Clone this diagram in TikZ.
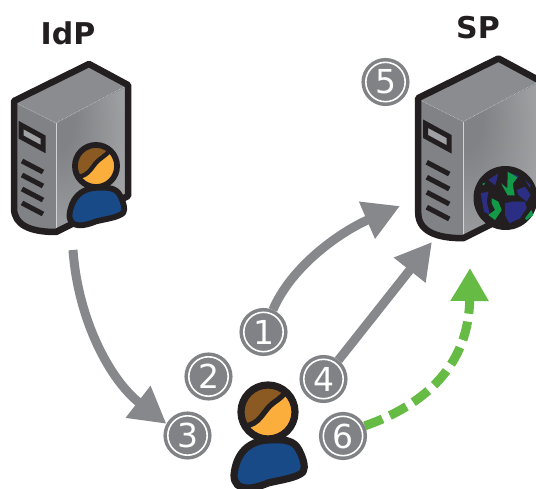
\documentclass[tikz,border=0pt]{standalone}
\usepackage{fontspec}
\setmainfont{DejaVu Sans}
\usetikzlibrary{arrows.meta,backgrounds}
\definecolor{ink}{HTML}{231F20}
\definecolor{gr}{HTML}{808285}
\definecolor{arrowgr}{HTML}{87888B}
\definecolor{grn}{HTML}{66BB44}
\definecolor{hair}{HTML}{8B5A22}
\definecolor{skin}{HTML}{FBAE3B}
\definecolor{shirt}{HTML}{184A88}
\definecolor{globeb}{HTML}{2B2E83}
\definecolor{globeg}{HTML}{139A48}
\pgfdeclareradialshading{srvshade}{\pgfpoint{-25bp}{15bp}}{
 color(0bp)=(gr); color(10bp)=(gr); color(70bp)=(gr!50!white); color(100bp)=(gr!50!white)}
\tikzset{
 x=1pt,y=-1pt,
 num/.style={circle,draw=gr,line width=2.6pt,fill=gr,minimum size=45.5pt,inner sep=0pt,font=\fontsize{33}{33}\selectfont,text=white,
   path picture={\draw[white,line width=1.6pt] (path picture bounding box.center) circle[radius=19.7pt];}},
 title/.style={font=\bfseries\fontsize{30}{30}\selectfont,text=ink},
 flow/.style={draw=arrowgr,line width=9pt,-{Triangle[length=36pt,width=38pt]}},
 flowg/.style={draw=grn,line width=9pt,dash pattern=on 19pt off 8pt,-{Triangle[length=33pt,width=36pt]}},
 outline/.style={draw=ink,line width=6.5pt,line join=miter},
 slot/.style={draw=ink,line width=5pt},
 person/.style={draw=ink,line join=round},
}
\newcommand{\servershape}{
  \fill[gr] (14,102) -- (89,64) -- (128,86) -- (128,196) -- (56,232) .. controls (30,232) and (14,225) .. (14,208) -- cycle;
  \begin{scope}
    \clip (56,123) -- (128,86) -- (128,196) -- (56,232) -- cycle;
    \shade[shading=srvshade] (56,86) rectangle (128,232);
  \end{scope}
  \fill[gr!92!white] (14,102) -- (89,64) -- (128,86) -- (56,123) -- cycle;
  \draw[white!75!gr,line width=.5pt,densely dotted] (14,102) -- (56,123) -- (126,86);
  \draw[white!65!gr,line width=.4pt] (56,123) -- (56,230);
  \draw[outline,line join=round] (56,232) .. controls (30,232) and (14,225) .. (14,208) -- (14,101) -- (89,64) -- (128,85) -- (128,196) -- cycle;
  \draw[draw=ink,line width=5pt,fill=gr!75!white] (21,125) -- (43,137) -- (43,149) -- (21,137) -- cycle;
  \foreach \yy in {161,175,189,203} \draw[slot] (22,\yy) -- (43,\yy+11);
}
\newcommand{\personshape}[1]{
  \filldraw[person,line width=#1pt,fill=shirt] (-34,63) .. controls (-32,42) and (-20,29) .. (0,28)
     .. controls (16,27) and (26,28) .. (31,38) .. controls (35,46) and (38,55) .. (35,60)
     .. controls (29,66) and (12,68) .. (0,71) .. controls (-14,77) and (-34,81) .. (-34,63) -- cycle;
  \fill[skin] (0,0) circle[radius=27];
  \begin{scope}
    \clip (0,0) circle[radius=27];
    \fill[hair] (-30,-30) -- (30,-30) -- (17,-22) .. controls (10,-12) and (4,-12) .. (-4,-3)
       .. controls (-8,4) and (-12,11) .. (-26,12) -- (-40,12) -- cycle;
    \draw[ink,line width=#1pt*.75] (22,-30) .. controls (18,-16) and (10,-13) .. (4,-8) .. controls (-5,-1) and (-8,13) .. (-24,14);
  \end{scope}
  \draw[person,line width=#1pt] (0,0) circle[radius=27];
}
\begin{document}
\begin{tikzpicture}
\useasboundingbox (0,0) rectangle (536,489);
% servers
\begin{scope}\servershape\end{scope}
\begin{scope}[shift={(415,97)},xscale=1.07,yscale=1.07,shift={(-11,-100)}]\servershape\end{scope}
% small person
\begin{scope}[shift={(96,166)},scale=.78]\personshape{5.8}\end{scope}
% big person
\begin{scope}[shift={(268,412)}]\personshape{7.2}\end{scope}
% globe
\fill[ink] (505.5,198) circle[radius=32];
\begin{scope}[shift={(470,160)},scale=1/3]
  \fill[globeb] (32,100) -- (55,95) -- (50,125) -- (60,165) -- (42,155) -- cycle;
  \fill[globeb] (55,60) -- (85,40) -- (76,76) -- cycle;
  \fill[globeb] (105,130) -- (125,125) -- (165,125) -- (170,145) -- (150,175) -- (118,190) -- (105,165) -- cycle;
  \fill[globeb] (140,90) -- (165,80) -- (182,105) -- (170,125) -- (145,105) -- cycle;
  \fill[globeb] (122,40) -- (146,48) -- (135,65) -- cycle;
  \fill[globeb] (165,60) -- (182,75) -- (180,85) -- cycle;
  \fill[globeg] (113,35) -- (142,52) -- (128,72) -- (134,106) -- (113,106) -- (93,70) -- (112,85) -- cycle;
  \fill[globeg] (65,115) -- (85,125) -- (95,150) -- (75,180) -- (55,165) -- (75,150) -- (65,130) -- cycle;
  \fill[globeg] (165,175) -- (184,150) -- (190,165) -- (170,180) -- cycle;
  \fill[globeg] (36,72) -- (45,68) -- (42,76) -- cycle;
\end{scope}
% numbered circles
\node[num] (c1) at (263.5,332) {1};
\node[num] (c2) at (208.5,376.5) {2};
\node[num] (c3) at (187.5,435.5) {3};
\node[num] (c4) at (323.5,379) {4};
\node[num] (c5) at (385.5,82) {5};
\node[num] (c6) at (343,436) {6};
% free ends
\coordinate (t1) at (400,206);
\coordinate (t4) at (432,242);
\coordinate (s3) at (73,250);
\coordinate (tg) at (470,268);
% connectors
\begin{pgfonlayer}{background}
\draw[flow] (c1) .. controls (292,265) and (342,231) .. (t1);
\draw[flow] (c4) -- (t4);
\draw[flow] (s3) .. controls (78,320) and (110,380) .. (c3.151);
\draw[flowg] (c6.25) .. controls (425,405) and (469,365) .. (tg);
\end{pgfonlayer}
% titles
\node[title] (idp) at (68,33) {IdP};
\node[title] (sp) at (478,28) {SP};
\end{tikzpicture}
\end{document}
